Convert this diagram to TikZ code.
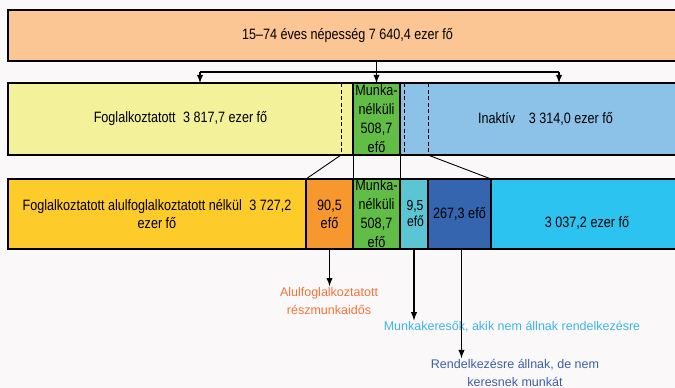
\documentclass[tikz,border=0pt]{standalone}
\usepackage{fontspec}
\setmainfont{Liberation Sans}
\newfontfamily\narrowfont{Liberation Sans}[FakeStretch=0.84]
\usepackage{tikz}
\usetikzlibrary{arrows, positioning, calc}
\definecolor{bgPaper}{RGB}{251, 248, 249}
\definecolor{popPeach}{RGB}{251, 197, 148}
\definecolor{empYellow}{RGB}{243, 241, 153}
\definecolor{unempGreen}{RGB}{98, 189, 71}
\definecolor{inactBlue}{RGB}{141, 194, 232}
\definecolor{fullYellow}{RGB}{253, 203, 42}
\definecolor{partOrange}{RGB}{247, 152, 47}
\definecolor{seekCyan}{RGB}{91, 197, 212}
\definecolor{availBlue}{RGB}{52, 101, 174}
\definecolor{restCyan}{RGB}{44, 195, 240}
\definecolor{lblOrange}{RGB}{244, 116, 59}
\definecolor{lblCyan}{RGB}{61, 181, 230}
\definecolor{lblBlue}{RGB}{58, 95, 168}

\begin{document}
\begin{tikzpicture}[
    x=1pt, y=-1pt,
    bar/.style={rectangle, draw=black, line width=1.6pt, inner sep=1pt, outer sep=0pt, anchor=north west, align=center, font=\narrowfont\fontsize{15}{18}\selectfont},
    tall/.style={font=\narrowfont\fontsize{15}{19}\selectfont},
    lbl/.style={align=center, inner sep=1pt, font=\fontsize{12.5}{18}\selectfont},
    line/.style={line width=1.8pt},
    thin/.style={line width=0.9pt},
    split/.style={line width=1pt, dash pattern=on 4pt off 2.5pt},
    arrow/.style={->, >=latex, line width=1.8pt}
]
\fill[bgPaper] (0,0) rectangle (675,388);
\useasboundingbox (0,0) rectangle (675,388);

% Population
\node[bar, fill=popPeach, minimum width=669pt, minimum height=51pt] (pop) at (8,10) {\hspace*{10pt}15–74 éves népesség 7 640,4 ezer fő};

% Labour market status
\node[bar, fill=empYellow, minimum width=345pt, minimum height=72pt] (emp) at (8,83) {Foglalkoztatott\enspace 3 817,7 ezer fő};
\node[bar, tall, fill=unempGreen, minimum width=47pt, minimum height=72pt] (unemp) at (353,83) {Munka-\\nélküli\\508,7\\efő};
\node[bar, fill=inactBlue, minimum width=277pt, minimum height=72pt] (inact) at (400,83) {\hspace*{14pt}Inaktív\enspace\, 3 314,0 ezer fő};

% Dashed splits
\coordinate (dashA) at (341,83);
\coordinate (dashB) at (404,83);
\coordinate (dashC) at (428,83);
\draw[split] (dashA) -- (dashA |- emp.south);
\draw[split] (dashB) -- (dashB |- inact.south);
\draw[split] (dashC) -- (dashC |- inact.south);

% Detailed breakdown
\node[bar, fill=fullYellow, minimum width=298pt, minimum height=70pt] (full) at (8,179) {Foglalkoztatott alulfoglalkoztatott nélkül\enspace 3 727,2\\ezer fő};
\node[bar, fill=partOrange, minimum width=47pt, minimum height=70pt] (part) at (306,179) {90,5\\efő};
\node[bar, tall, fill=unempGreen, minimum width=47pt, minimum height=70pt] (unemp2) at (353,179) {Munka-\\nélküli\\508,7\\efő};
\node[bar, fill=seekCyan, minimum width=28pt, minimum height=70pt, font=\narrowfont\fontsize{14.5}{16}\selectfont] (seek) at (400,179) {\hspace*{2pt}9,5\\\hspace*{3pt}efő};
\node[bar, fill=availBlue, minimum width=63pt, minimum height=70pt] (avail) at (428,179) {267,3 efő};
\node[bar, fill=restCyan, minimum width=186pt, minimum height=70pt] (rest) at (491,179) {\hspace*{6pt}\raisebox{-9pt}[\height][\depth]{3 037,2 ezer fő}};

% Split arrows
\coordinate (splitL) at (200,72);
\coordinate (splitR) at (559,72);
\draw[line] (pop.south -| unemp.north) -- (unemp.north |- splitL);
\draw[line] (splitL) -- (splitR);
\draw[arrow] (splitL) -- (splitL |- emp.north);
\draw[arrow] (unemp.north |- splitL) -- (unemp.north);
\draw[arrow] (splitR) -- (splitR |- inact.north);

% Links between rows
\draw[thin] (dashA |- emp.south) -- (part.north west);
\draw[thin] (unemp.south west) -- (unemp2.north west);
\draw[thin] (unemp.south east) -- (unemp2.north east);
\draw[thin] (dashC |- inact.south) -- (avail.north east);

% Labels
\node[lbl, text=lblOrange] (partLbl) at (329,301) {Alulfoglalkoztatott\\részmunkaidős};
\node[lbl, text=lblCyan] (seekLbl) at (512,327) {Munkakeresők, akik nem állnak rendelkezésre};
\node[lbl, text=lblBlue] (availLbl) at (515,373) {Rendelkezésre állnak, de nem\\keresnek munkát};

\draw[arrow] (part.south) -- (part.south |- partLbl.north);
\draw[arrow] (seek.south) -- (seek.south |- seekLbl.north);
\draw[arrow] ($(avail.south)+(2,0)$) -- ($(avail.south |- availLbl.north)+(2,0)$);

\end{tikzpicture}
\end{document}
